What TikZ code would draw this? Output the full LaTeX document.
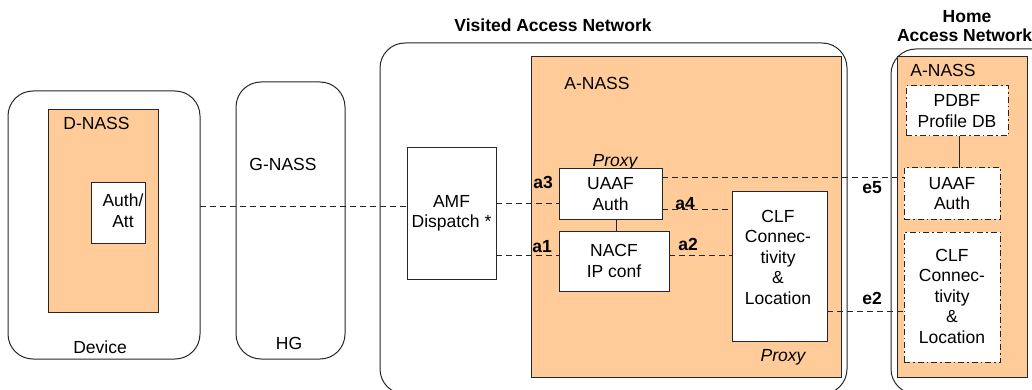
\documentclass[tikz,border=0pt]{standalone}
\usepackage{fontspec}
\setmainfont{Liberation Sans}
\begin{document}
\begin{tikzpicture}[x=1pt,y=-1pt,
  every node/.style={font=\fontsize{17.5}{20.5}\selectfont, inner sep=0pt, outer sep=0pt},
  container/.style={draw=black!85, line width=1pt, rounded corners=25pt},
  nass/.style={draw=black!85, fill=orange1, line width=1pt},
  fbox/.style={draw=black!85, fill=white, line width=1pt, align=center},
  hbox/.style={draw=black!85, fill=white, line width=1pt, align=center, dash pattern=on 6pt off 3pt on 1.5pt off 3pt},
  conn/.style={draw=black!85, line width=1pt, dash pattern=on 6pt off 4pt},
  link/.style={draw=black!85, line width=1pt},
  lbl/.style={font=\bfseries\fontsize{17.5}{20.5}\selectfont},
  ttl/.style={font=\bfseries\fontsize{17.5}{20.5}\selectfont, align=center},
  prx/.style={font=\itshape\fontsize{17.5}{20.5}\selectfont}
]
\definecolor{orange1}{HTML}{FFCC99}
\useasboundingbox (0,0) rectangle (1032,390);

% containers
\node[container, minimum width=192pt, minimum height=268pt] (Device) at (104,225) {};
\node[container, minimum width=109pt, minimum height=277pt] (HG) at (290.5,220.5) {};
\node[container, minimum width=467pt, minimum height=351pt] (Visited) at (613.5,218.5) {};
\node[container, minimum width=169pt, minimum height=345pt] (Home) at (975.5,221.5) {};

% NASS areas
\node[nass, minimum width=110pt, minimum height=202pt] (DNASS) at (103,211) {};
\node[nass, minimum width=310pt, minimum height=320pt] (ANASS) at (686,217) {};
\node[nass, minimum width=130pt, minimum height=320pt] (HNASS) at (962,217) {};

% titles and labels
\node[ttl] (tVisited) at (553,25) {Visited Access Network};
\node[ttl] (tHome) at (967,17) {Home};
\node[ttl, anchor=west] (tHome2) at (897,35) {Access Network};
\node (lD) at (96.5,123) {D-NASS};
\node (lDev) at (100,347) {Device};
\node (lG) at (283,164) {G-NASS};
\node (lHG) at (289,343) {HG};
\node (lA) at (597,83) {A-NASS};
\node (lHA) at (943,70) {A-NASS};
\node[prx] (p1) at (615,162) {Proxy};
\node[prx] (p2) at (783,357) {Proxy};

% function boxes
\node[fbox, minimum width=54pt, minimum height=61pt] (Auth) at (118,212.5) {};
\node[align=center] (AuthT) at (123,210.5) {Auth/\\Att};
\node[fbox, minimum width=89pt, minimum height=131pt] (AMF) at (451.5,213.5) {AMF\\Dispatch *};
\node[fbox, minimum width=103pt, minimum height=50pt] (UAAF) at (610.5,194) {UAAF\\Auth};
\node[fbox, minimum width=110pt, minimum height=60pt] (NACF) at (614,261) {NACF\\IP conf};
\node[fbox, minimum width=95pt, minimum height=150pt, text depth=0pt] (CLF) at (779.5,266) {};
\node[align=center] (CLFT) at (778,257) {CLF\\Connec-\\tivity\\\&\\Location};
\node[hbox, minimum width=102pt, minimum height=50pt] (PDBF) at (957,111) {PDBF\\Profile DB};
\node[hbox, minimum width=96pt, minimum height=51pt] (HUAAF) at (952,193.5) {UAAF\\Auth};
\node[hbox, minimum width=96pt, minimum height=130pt] (HCLF) at (952,297) {};
\node[align=center] (HCLFT) at (952,296) {CLF\\Connec-\\tivity\\\&\\Location};

% helper coordinates for connector heights
\coordinate (y206) at (0,206);
\coordinate (y203) at (0,203);
\coordinate (y255) at (0,255);
\coordinate (y209) at (0,209);
\coordinate (y177) at (0,177);
\coordinate (y311) at (0,311);
\coordinate (x616) at (616,0);
\coordinate (x959) at (959,0);

% connectors
\draw[conn] (Device.east |- y206) -- (AMF.west |- y206);
\draw[conn] (AMF.east |- y203) -- (UAAF.west |- y203);
\draw[conn] (AMF.east |- y255) -- (NACF.west |- y255);
\draw[conn] (UAAF.east |- y209) -- (CLF.west |- y209);
\draw[conn] (NACF.east |- y255) -- (CLF.west |- y255);
\draw[conn] (UAAF.east |- y177) -- (HUAAF.west |- y177);
\draw[conn] (CLF.east |- y311) -- (HCLF.west |- y311);
\draw[link] (UAAF.south -| x616) -- (NACF.north -| x616);
\draw[link] (PDBF.south -| x959) -- (HUAAF.north -| x959);

% interface labels
\node[lbl] (a3) at (543,182) {a3};
\node[lbl] (a1) at (542,247) {a1};
\node[lbl] (a4) at (685,204) {a4};
\node[lbl] (a2) at (688,244) {a2};
\node[lbl] (e5) at (872,188) {e5};
\node[lbl] (e2) at (872,298) {e2};
\end{tikzpicture}
\end{document}
